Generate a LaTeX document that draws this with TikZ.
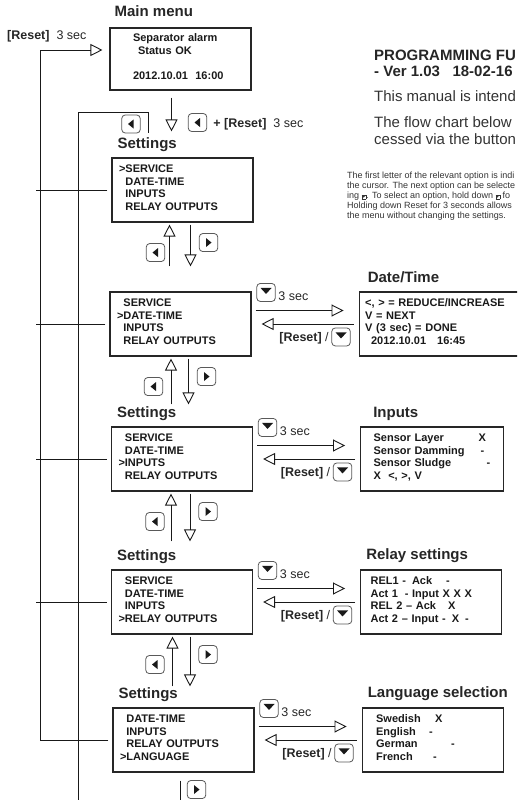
\documentclass[tikz,border=0pt]{standalone}
\usepackage{fontspec}
\setmainfont{Liberation Sans}
\newfontfamily\symfont{DejaVu Sans}
\usetikzlibrary{arrows.meta,positioning}

% small key symbols inside the running text
\newcommand{\inlinekey}[1]{\raisebox{-0.8pt}{\setlength{\fboxsep}{0.5pt}\setlength{\fboxrule}{0.35pt}\fbox{\symfont\fontsize{5.5}{5.5}\selectfont#1}}}

\tikzset{
  menubox/.style={draw=black!85, line width=1.1pt, text width=127pt,
    minimum height=64pt, inner xsep=7pt, inner ysep=0pt, text depth=42pt,
    align=left, font=\fontsize{11}{12.5}\selectfont\bfseries, text=black!90},
  boxtitle/.style={anchor=base west, inner sep=0pt,
    font=\fontsize{15}{17}\selectfont\bfseries, text=black!85},
  lbl/.style={inner sep=0pt, font=\fontsize{12.5}{14}\selectfont, text=black!85},
  link/.style={line width=0.9pt, draw=black!90},
  harrow/.style={link, -{Triangle[open, length=12pt, width=12pt]}},
  btn/.style={draw=black!65, line width=0.8pt, fill=white, rounded corners=3.5pt,
    minimum width=18.5pt, minimum height=18pt, inner sep=0pt},
  btnL/.style={btn, path picture={\fill[black!90, sharp corners]
    ([xshift=-3pt]path picture bounding box.center) -- ++(5.5pt,4.5pt) -- ++(0pt,-9pt) -- cycle;}},
  btnR/.style={btn, path picture={\fill[black!90, sharp corners]
    ([xshift=3pt]path picture bounding box.center) -- ++(-5.5pt,4.5pt) -- ++(0pt,-9pt) -- cycle;}},
  btnD/.style={btn, path picture={\fill[black!90, sharp corners]
    ([yshift=-1.5pt]path picture bounding box.center) -- ++(-5.5pt,6pt) -- ++(11pt,0pt) -- cycle;}},
}

\begin{document}
\begin{tikzpicture}[x=1pt, y=-1pt]
  \useasboundingbox (0,0) rectangle (517,800);
  \clip (0,0) rectangle (517,800);

  % ----- heading and notes on the right (base = last line) -----
  \node[anchor=base west, align=left, inner sep=0pt, text=black!85,
        font=\fontsize{15}{16}\selectfont\bfseries] (head) at (374,76)
        {PROGRAMMING FU\\- Ver 1.03\ \ \ 18-02-16};
  \node[anchor=base west, inner sep=0pt, text=black!80,
        font=\fontsize{15}{17}\selectfont] (intro) at (374,101) {This manual is intend};
  \node[anchor=base west, align=left, inner sep=0pt, text=black!80,
        font=\fontsize{15}{17}\selectfont] (flow) at (374,144)
        {The flow chart below\\cessed via the button};
  \node[anchor=base west, align=left, inner sep=0pt, text=black!80,
        font=\fontsize{9}{10}\selectfont] (note) at (347,218)
        {The first letter of the relevant option is indi\\
         the cursor. The next option can be selecte\\
         ing \inlinekey{▸}. To select an option, hold down \inlinekey{▾} fo\\
         Holding down Reset for 3 seconds allows\\
         the menu without changing the settings.};

  % ----- main menu and settings column -----
  \node[menubox, minimum height=62pt, inner xsep=23pt, text width=95pt] (main) at (180.5,59)
        {Separator alarm\\\hspace*{5pt}Status OK\\[12.5pt]2012.10.01\ \ 16:00};
  \node[boxtitle] (main-t) at ([xshift=5pt, yshift=10.5pt]main.north west) {Main menu};

  \node[menubox] (s1) at (182.5,190)
        {>SERVICE\\\phantom{>}DATE-TIME\\\phantom{>}INPUTS\\\phantom{>}RELAY OUTPUTS};
  \node[menubox] (s2) at (180.5,324)
        {\phantom{>}SERVICE\\>DATE-TIME\\\phantom{>}INPUTS\\\phantom{>}RELAY OUTPUTS};
  \node[menubox] (s3) at (182,459)
        {\phantom{>}SERVICE\\\phantom{>}DATE-TIME\\>INPUTS\\\phantom{>}RELAY OUTPUTS};
  \node[menubox] (s4) at (182,602)
        {\phantom{>}SERVICE\\\phantom{>}DATE-TIME\\\phantom{>}INPUTS\\>RELAY OUTPUTS};
  \node[menubox] (s5) at (183.5,740)
        {\phantom{>}DATE-TIME\\\phantom{>}INPUTS\\\phantom{>}RELAY OUTPUTS\\>LANGUAGE};
  \foreach \s in {s1,s3,s4,s5}
    \node[boxtitle] (t-\s) at ([xshift=6pt, yshift=9pt]\s.north west) {Settings};

  % ----- detail boxes -----
  \node[menubox, right=107pt of s2, text width=163pt, inner xsep=6pt] (dt)
        {<, > = REDUCE/INCREASE\\V = NEXT\\V (3 sec) = DONE\\\hspace*{6pt}2012.10.01\ \ \ 16:45};
  \node[menubox, right=107pt of s3, text width=117pt, inner xsep=13pt] (inp)
        {\makebox[105pt][l]{Sensor Layer}X\\\makebox[107pt][l]{Sensor Damming}-\\
         \makebox[113pt][l]{Sensor Sludge}-\\X\ \ <, >, V};
  \node[menubox, right=107pt of s4, text width=121pt, inner xsep=10pt] (rel)
        {REL1 -\hspace{6pt}Ack\hspace{14pt}-\\Act 1\hspace{3pt} - Input X X X\\
         REL 2 -- Ack\hspace{12pt}X\\Act 2 -- Input -\hspace{6pt}X\hspace{6pt}-};
  \node[menubox, right=107pt of s5, text width=113pt, inner xsep=14pt] (lang)
        {\makebox[59pt][l]{Swedish}X\\\makebox[53pt][l]{English}-\\
         \makebox[75pt][l]{German}-\\\makebox[57pt][l]{French}-};
  \node[boxtitle] (dt-t) at ([xshift=9pt, yshift=9pt]dt.north west) {Date/Time};
  \node[boxtitle] (inp-t) at ([xshift=13pt, yshift=9pt]inp.north west) {Inputs};
  \node[boxtitle] (rel-t) at ([xshift=6pt, yshift=10pt]rel.north west) {Relay settings};
  \node[boxtitle] (lang-t) at ([xshift=6pt, yshift=9.5pt]lang.north west) {Language selection};

  % ----- main menu -> settings -----
  \draw[harrow, shorten <=7pt, shorten >=26pt] ([xshift=-9pt]main.south) -- ([xshift=-9pt]main.south |- s1.north);
  \node[btnL] (lreset) at (197.5,122.5) {};
  \node[lbl, anchor=base west] (lreset-txt) at ([xshift=6pt, yshift=-5pt]lreset.east)
        {\textbf{+ [Reset]}\ \ 3 sec};

  % ----- up / down between the settings screens -----
  \foreach \a/\b/\g in {s1/s2/25, s2/s3/22, s3/s4/28, s4/s5/21}{
    \draw[harrow, shorten <=\g pt, shorten >=2pt] ([xshift=-11pt]\b.north) -- ([xshift=-11pt]\b.north |- \a.south);
    \draw[harrow, shorten <=2pt, shorten >=\g pt] ([xshift=8pt]\a.south) -- ([xshift=8pt]\a.south |- \b.north);
    \node[btnR] (r-\a) at ([xshift=26pt, yshift=-20pt]\a.south) {};
    \node[btnL] (l-\a) at ([xshift=-27pt, yshift=-30pt]\a.south) {};
  }
  \coordinate (bend) at (180,805);
  \draw[link, shorten <=8pt] ([xshift=-3.5pt]s5.south) -- ([xshift=-3.5pt]s5.south |- bend);
  \node[btnR] (r-s5) at ([xshift=13pt, yshift=-17pt]s5.south) {};

  % ----- into and out of the detail boxes -----
  \foreach \s/\r in {s2/dt, s3/inp, s4/rel, s5/lang}{
    \node[btnD] (d-\s) at ([xshift=14.5pt, yshift=-1pt]\s.north east) {};
    \node[lbl, anchor=base west] (d-\s-txt) at ([xshift=2.5pt, yshift=-8pt]d-\s.east) {3 sec};
    \draw[harrow, shorten <=4pt, shorten >=15pt] ([yshift=13.5pt]\s.east) -- ([yshift=13.5pt]\s.east -| \r.west);
    \draw[harrow, shorten <=5pt, shorten >=10pt] (\r.west) -- (\s.east);
    \node[btnD] (u-\s) at ([xshift=89.5pt, yshift=-45.5pt]\s.north east) {};
    \node[lbl, anchor=base east] (u-\s-txt) at ([xshift=-2.5pt, yshift=-5pt]u-\s.west) {\textbf{[Reset]} /};
  }

  % ----- reset back to the main menu -----
  \coordinate (rtop) at (40,50);
  \draw[harrow, shorten >=7pt] ([xshift=-4pt]s5.west) -| (rtop) -- (rtop -| main.west);
  \foreach \s in {s1,s2,s3,s4}
    \draw[link] ([xshift=-4pt]\s.west) -- ([xshift=-4pt]\s.west -| rtop);
  \node[lbl, anchor=base west] (rlabel) at (7,39.5) {\textbf{[Reset]}\ \ 3 sec};

  % ----- back line with the left key -----
  \coordinate (bbot) at (78,805);
  \coordinate (btop) at (148,112);
  \coordinate (bend2) at (148,133);
  \draw[link] (bbot) |- (btop) -- (bend2);
  \node[btnL] (lback) at (131,124) {};

\end{tikzpicture}
\end{document}
